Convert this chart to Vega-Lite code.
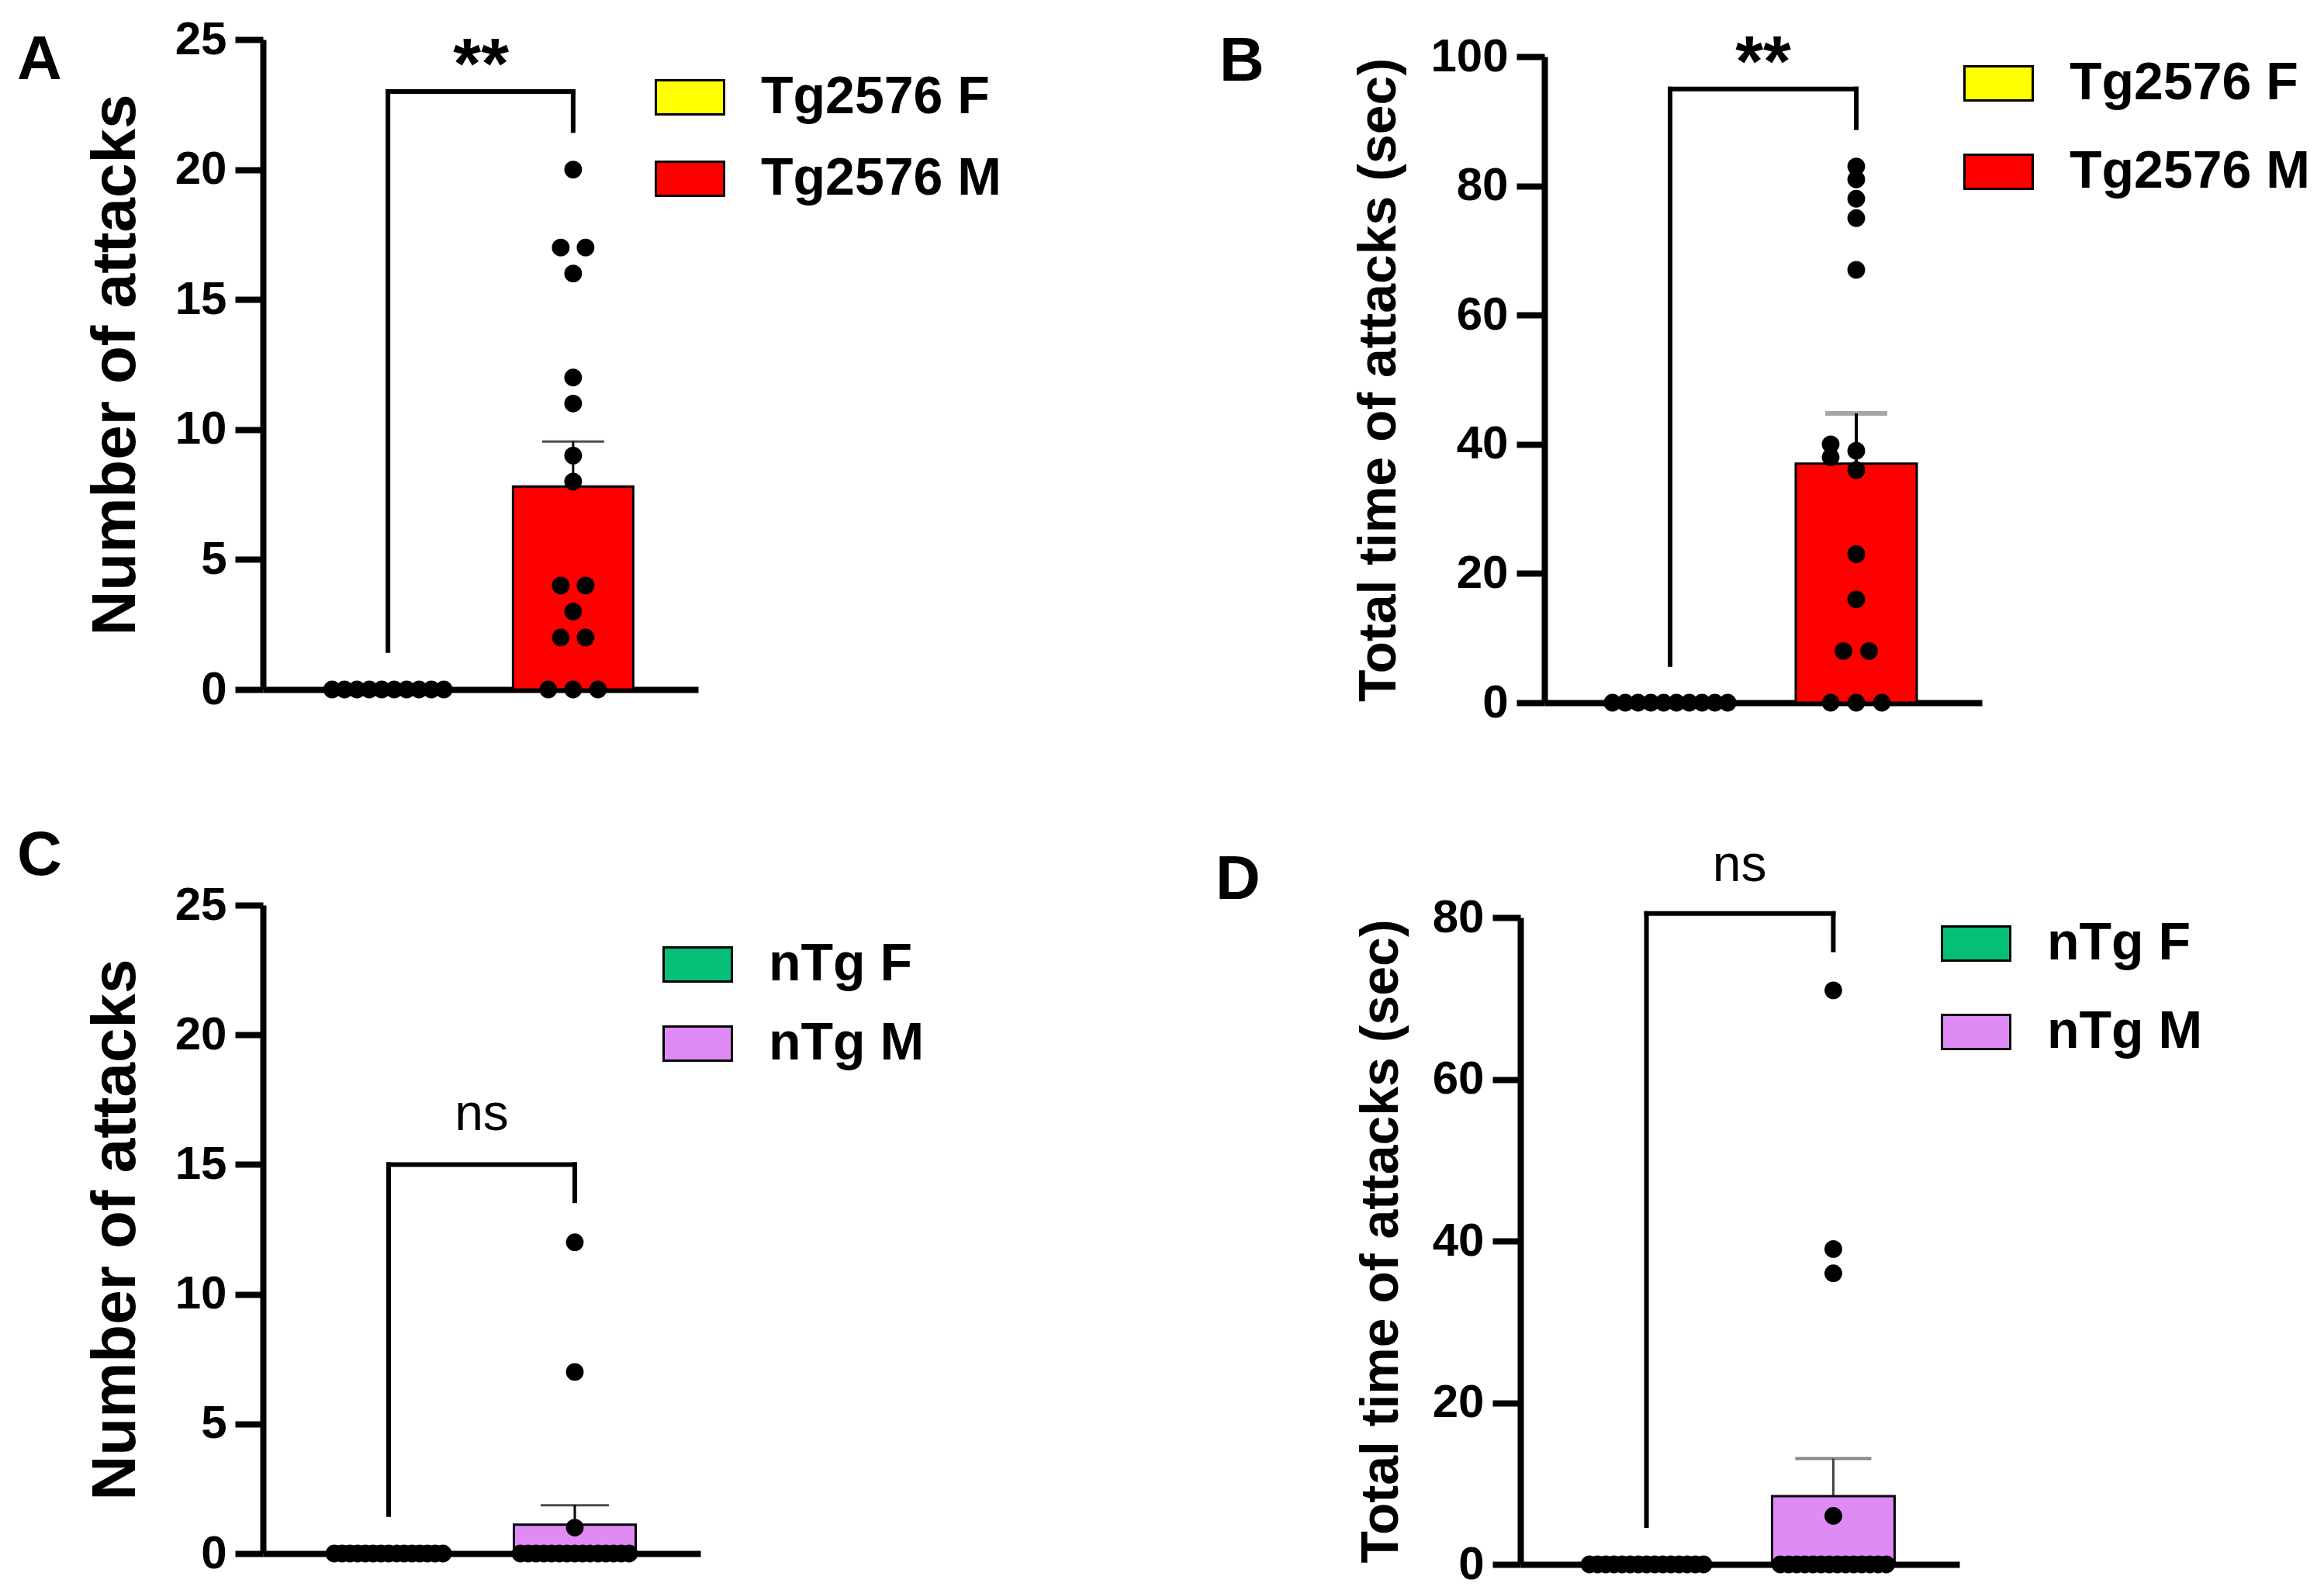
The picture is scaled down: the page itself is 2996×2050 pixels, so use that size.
{
  "$schema": "https://vega.github.io/schema/vega-lite/v6.json",
  "background": "#ffffff",
  "padding": {"left": 22, "top": 21, "right": 0, "bottom": 0},
  "bounds": "flush",
  "columns": 2,
  "spacing": {"row": 261, "column": 1057},
  "resolve": {"scale": {"fill": "independent", "xOffset": "independent"}, "legend": {"fill": "independent"}},
  "concat": [
    {
      "width": 561,
      "height": 838,
      "title": {"text": "A", "dx": -317, "dy": 102},
      "encoding": {
        "x": {"field": "group", "type": "nominal", "title": null, "sort": null,
              "scale": {"domain": ["Tg2576 F", "Tg2576 M"], "paddingInner": 0.35, "paddingOuter": 0.35}}
      },
      "layer": [
        {
          "data": {"name": "tgAttacks"},
          "transform": [{"filter": "datum.group === 'Tg2576 M'"}],
          "mark": {"type": "errorbar", "extent": "stderr",
                   "ticks": {"size": 80, "thickness": 3, "color": "#000000"},
                   "rule": {"strokeWidth": 3, "color": "#000000"}},
          "encoding": {
            "y": {"field": "value", "type": "quantitative", "title": "Number of attacks",
                  "scale": {"domain": [0, 25], "nice": false},
                  "axis": {"values": [0, 5, 10, 15, 20, 25], "titleFontSize": 80, "titlePadding": 35}}
          }
        },
        {
          "data": {"name": "tgAttacks"},
          "mark": {"type": "bar", "stroke": "#000000", "strokeWidth": 3, "width": 155},
          "encoding": {
            "y": {"aggregate": "mean", "field": "value", "type": "quantitative", "title": "Number of attacks"},
            "fill": {"field": "group", "type": "nominal",
                     "scale": {"domain": ["Tg2576 F", "Tg2576 M"], "range": ["#ffff00", "#ff0000"]},
                     "legend": {"legendX": 505, "legendY": 29, "rowPadding": 25}}
          }
        },
        {
          "data": {"name": "tgAttacks"},
          "mark": {"type": "circle", "size": 520, "color": "#000000", "opacity": 1},
          "encoding": {
            "xOffset": {"field": "dodge", "type": "quantitative", "scale": {"domain": [-1, 1], "range": [61.6, 93.6]}},
            "y": {"field": "value", "type": "quantitative", "title": "Number of attacks"}
          }
        },
        {
          "data": {"name": "brackets"},
          "transform": [{"filter": "datum.panel === 'A'"}],
          "layer": [
            {"mark": {"type": "rule", "strokeWidth": 6, "color": "#000000", "strokeCap": "square"},
             "encoding": {"y": {"field": "left", "type": "quantitative", "title": "Number of attacks"}, "y2": {"field": "top"}}},
            {"mark": {"type": "rule", "strokeWidth": 6, "color": "#000000", "strokeCap": "square"},
             "encoding": {"x2": {"field": "group2"}, "y": {"field": "top", "type": "quantitative", "title": "Number of attacks"}}},
            {"mark": {"type": "rule", "strokeWidth": 6, "color": "#000000", "strokeCap": "square"},
             "encoding": {"x": {"field": "group2", "type": "nominal", "title": null}, "y": {"field": "right", "type": "quantitative", "title": "Number of attacks"}, "y2": {"field": "top"}}},
            {"mark": {"type": "text", "dx": 120, "dy": -4, "fontSize": 92, "fontWeight": "bold", "align": "center", "baseline": "alphabetic", "color": "#000000"},
             "encoding": {"text": {"field": "label"}, "y": {"field": "top", "type": "quantitative", "title": "Number of attacks"}}}
          ]
        }
      ]
    },
    {
      "width": 595,
      "height": 855,
      "title": {"text": "B", "dx": -388, "dy": 88},
      "encoding": {
        "x": {"field": "group", "type": "nominal", "title": null, "sort": null,
              "scale": {"domain": ["Tg2576 F", "Tg2576 M"], "paddingInner": 0.35, "paddingOuter": 0.35, "range": [31, 595]}}
      },
      "layer": [
        {
          "data": {"name": "tgTime"},
          "transform": [{"filter": "datum.group === 'Tg2576 M'"}],
          "mark": {"type": "errorbar", "extent": "stderr",
                   "ticks": {"size": 80, "thickness": 6, "color": "#808080"},
                   "rule": {"strokeWidth": 4, "color": "#000000"}},
          "encoding": {
            "y": {"field": "value", "type": "quantitative", "title": "Total time of attacks (sec)",
                  "scale": {"domain": [0, 100], "nice": false, "range": [855, 22]},
                  "axis": {"values": [0, 20, 40, 60, 80, 100], "titleFontSize": 68, "titlePadding": 31, "offset": -31}}
          }
        },
        {
          "data": {"name": "tgTime"},
          "mark": {"type": "bar", "stroke": "#000000", "strokeWidth": 3, "width": 156},
          "encoding": {
            "y": {"aggregate": "mean", "field": "value", "type": "quantitative", "title": "Total time of attacks (sec)"},
            "fill": {"field": "group", "type": "nominal",
                     "scale": {"domain": ["Tg2576 F", "Tg2576 M"], "range": ["#ffff00", "#ff0000"]},
                     "legend": {"legendX": 571, "legendY": 11, "rowPadding": 34}}
          }
        },
        {
          "data": {"name": "tgTime"},
          "mark": {"type": "circle", "size": 520, "color": "#000000", "opacity": 1},
          "encoding": {
            "xOffset": {"field": "dodge", "type": "quantitative", "scale": {"domain": [-1, 1], "range": [61.5, 94.5]}},
            "y": {"field": "value", "type": "quantitative", "title": "Total time of attacks (sec)"}
          }
        },
        {
          "data": {"name": "brackets"},
          "transform": [{"filter": "datum.panel === 'B'"}],
          "layer": [
            {"mark": {"type": "rule", "strokeWidth": 6, "color": "#000000", "strokeCap": "square"},
             "encoding": {"y": {"field": "left", "type": "quantitative", "title": "Total time of attacks (sec)"}, "y2": {"field": "top"}}},
            {"mark": {"type": "rule", "strokeWidth": 6, "color": "#000000", "strokeCap": "square"},
             "encoding": {"x2": {"field": "group2"}, "y": {"field": "top", "type": "quantitative", "title": "Total time of attacks (sec)"}}},
            {"mark": {"type": "rule", "strokeWidth": 6, "color": "#000000", "strokeCap": "square"},
             "encoding": {"x": {"field": "group2", "type": "nominal", "title": null}, "y": {"field": "right", "type": "quantitative", "title": "Total time of attacks (sec)"}, "y2": {"field": "top"}}},
            {"mark": {"type": "text", "dx": 120, "dy": -4, "fontSize": 92, "fontWeight": "bold", "align": "center", "baseline": "alphabetic", "color": "#000000"},
             "encoding": {"text": {"field": "label"}, "y": {"field": "top", "type": "quantitative", "title": "Total time of attacks (sec)"}}}
          ]
        }
      ]
    },
    {
      "width": 564,
      "height": 836,
      "title": {"text": "C", "dx": -317, "dy": 12},
      "encoding": {
        "x": {"field": "group", "type": "nominal", "title": null, "sort": null,
              "scale": {"domain": ["nTg F", "nTg M"], "paddingInner": 0.35, "paddingOuter": 0.35}}
      },
      "layer": [
        {
          "data": {"name": "ntgAttacks"},
          "transform": [{"filter": "datum.group === 'nTg M'"}],
          "mark": {"type": "errorbar", "extent": "stderr",
                   "ticks": {"size": 88, "thickness": 3, "color": "#000000"},
                   "rule": {"strokeWidth": 3, "color": "#000000"}},
          "encoding": {
            "y": {"field": "value", "type": "quantitative", "title": "Number of attacks",
                  "scale": {"domain": [0, 25], "nice": false},
                  "axis": {"values": [0, 5, 10, 15, 20, 25], "titleFontSize": 80, "titlePadding": 35}}
          }
        },
        {
          "data": {"name": "ntgAttacks"},
          "mark": {"type": "bar", "stroke": "#000000", "strokeWidth": 3, "width": 157},
          "encoding": {
            "y": {"aggregate": "mean", "field": "value", "type": "quantitative", "title": "Number of attacks"},
            "fill": {"field": "group", "type": "nominal",
                     "scale": {"domain": ["nTg F", "nTg M"], "range": ["#05bf78", "#df8af5"]},
                     "legend": {"legendX": 515, "legendY": 31, "rowPadding": 22}}
          }
        },
        {
          "data": {"name": "ntgAttacks"},
          "mark": {"type": "circle", "size": 520, "color": "#000000", "opacity": 1},
          "encoding": {
            "xOffset": {"field": "dodge", "type": "quantitative", "scale": {"domain": [-1, 1], "range": [68, 88]}},
            "y": {"field": "value", "type": "quantitative", "title": "Number of attacks"}
          }
        },
        {
          "data": {"name": "brackets"},
          "transform": [{"filter": "datum.panel === 'C'"}],
          "layer": [
            {"mark": {"type": "rule", "strokeWidth": 6, "color": "#000000", "strokeCap": "square"},
             "encoding": {"y": {"field": "left", "type": "quantitative", "title": "Number of attacks"}, "y2": {"field": "top"}}},
            {"mark": {"type": "rule", "strokeWidth": 6, "color": "#000000", "strokeCap": "square"},
             "encoding": {"x2": {"field": "group2"}, "y": {"field": "top", "type": "quantitative", "title": "Number of attacks"}}},
            {"mark": {"type": "rule", "strokeWidth": 6, "color": "#000000", "strokeCap": "square"},
             "encoding": {"x": {"field": "group2", "type": "nominal", "title": null}, "y": {"field": "right", "type": "quantitative", "title": "Number of attacks"}, "y2": {"field": "top"}}},
            {"mark": {"type": "text", "dx": 120, "dy": -44, "fontSize": 66, "fontWeight": "normal", "align": "center", "baseline": "alphabetic", "color": "#000000"},
             "encoding": {"text": {"field": "label"}, "y": {"field": "top", "type": "quantitative", "title": "Number of attacks"}}}
          ]
        }
      ]
    },
    {
      "width": 566,
      "height": 850,
      "title": {"text": "D", "dx": -393, "dy": 97},
      "encoding": {
        "x": {"field": "group", "type": "nominal", "title": null, "sort": null,
              "scale": {"domain": ["nTg F", "nTg M"], "paddingInner": 0.35, "paddingOuter": 0.35}}
      },
      "layer": [
        {
          "data": {"name": "ntgTime"},
          "transform": [{"filter": "datum.group === 'nTg M'"}],
          "mark": {"type": "errorbar", "extent": "stderr",
                   "ticks": {"size": 98, "thickness": 4, "color": "#555555"},
                   "rule": {"strokeWidth": 3, "color": "#444444"}},
          "encoding": {
            "y": {"field": "value", "type": "quantitative", "title": "Total time of attacks (sec)",
                  "scale": {"domain": [0, 80], "nice": false, "range": [850, 16]},
                  "axis": {"values": [0, 20, 40, 60, 80], "titleFontSize": 68, "titlePadding": 31}}
          }
        },
        {
          "data": {"name": "ntgTime"},
          "mark": {"type": "bar", "stroke": "#000000", "strokeWidth": 3, "width": 158},
          "encoding": {
            "y": {"aggregate": "mean", "field": "value", "type": "quantitative", "title": "Total time of attacks (sec)"},
            "fill": {"field": "group", "type": "nominal",
                     "scale": {"domain": ["nTg F", "nTg M"], "range": ["#05bf78", "#df8af5"]},
                     "legend": {"legendX": 542, "legendY": 4, "rowPadding": 34}}
          }
        },
        {
          "data": {"name": "ntgTime"},
          "mark": {"type": "circle", "size": 520, "color": "#000000", "opacity": 1},
          "encoding": {
            "xOffset": {"field": "dodge", "type": "quantitative", "scale": {"domain": [-1, 1], "range": [67.8, 88.8]}},
            "y": {"field": "value", "type": "quantitative", "title": "Total time of attacks (sec)"}
          }
        },
        {
          "data": {"name": "brackets"},
          "transform": [{"filter": "datum.panel === 'D'"}],
          "layer": [
            {"mark": {"type": "rule", "strokeWidth": 6, "color": "#000000", "strokeCap": "square"},
             "encoding": {"y": {"field": "left", "type": "quantitative", "title": "Total time of attacks (sec)"}, "y2": {"field": "top"}}},
            {"mark": {"type": "rule", "strokeWidth": 6, "color": "#000000", "strokeCap": "square"},
             "encoding": {"x2": {"field": "group2"}, "y": {"field": "top", "type": "quantitative", "title": "Total time of attacks (sec)"}}},
            {"mark": {"type": "rule", "strokeWidth": 6, "color": "#000000", "strokeCap": "square"},
             "encoding": {"x": {"field": "group2", "type": "nominal", "title": null}, "y": {"field": "right", "type": "quantitative", "title": "Total time of attacks (sec)"}, "y2": {"field": "top"}}},
            {"mark": {"type": "text", "dx": 120, "dy": -42, "fontSize": 66, "fontWeight": "normal", "align": "center", "baseline": "alphabetic", "color": "#000000"},
             "encoding": {"text": {"field": "label"}, "y": {"field": "top", "type": "quantitative", "title": "Total time of attacks (sec)"}}}
          ]
        }
      ]
    }
  ],
  "datasets": {
    "tgAttacks": [
      {"group": "Tg2576 F", "value": 0, "dodge": -4.5},
      {"group": "Tg2576 F", "value": 0, "dodge": -3.5},
      {"group": "Tg2576 F", "value": 0, "dodge": -2.5},
      {"group": "Tg2576 F", "value": 0, "dodge": -1.5},
      {"group": "Tg2576 F", "value": 0, "dodge": -0.5},
      {"group": "Tg2576 F", "value": 0, "dodge": 0.5},
      {"group": "Tg2576 F", "value": 0, "dodge": 1.5},
      {"group": "Tg2576 F", "value": 0, "dodge": 2.5},
      {"group": "Tg2576 F", "value": 0, "dodge": 3.5},
      {"group": "Tg2576 F", "value": 0, "dodge": 4.5},
      {"group": "Tg2576 M", "value": 20, "dodge": 0},
      {"group": "Tg2576 M", "value": 17, "dodge": -1},
      {"group": "Tg2576 M", "value": 17, "dodge": 1},
      {"group": "Tg2576 M", "value": 16, "dodge": 0},
      {"group": "Tg2576 M", "value": 12, "dodge": 0},
      {"group": "Tg2576 M", "value": 11, "dodge": 0},
      {"group": "Tg2576 M", "value": 9, "dodge": 0},
      {"group": "Tg2576 M", "value": 8, "dodge": 0},
      {"group": "Tg2576 M", "value": 4, "dodge": -1},
      {"group": "Tg2576 M", "value": 4, "dodge": 1},
      {"group": "Tg2576 M", "value": 3, "dodge": 0},
      {"group": "Tg2576 M", "value": 2, "dodge": -1},
      {"group": "Tg2576 M", "value": 2, "dodge": 1},
      {"group": "Tg2576 M", "value": 0, "dodge": -2},
      {"group": "Tg2576 M", "value": 0, "dodge": 0},
      {"group": "Tg2576 M", "value": 0, "dodge": 2}
    ],
    "tgTime": [
      {"group": "Tg2576 F", "value": 0, "dodge": -4.5},
      {"group": "Tg2576 F", "value": 0, "dodge": -3.5},
      {"group": "Tg2576 F", "value": 0, "dodge": -2.5},
      {"group": "Tg2576 F", "value": 0, "dodge": -1.5},
      {"group": "Tg2576 F", "value": 0, "dodge": -0.5},
      {"group": "Tg2576 F", "value": 0, "dodge": 0.5},
      {"group": "Tg2576 F", "value": 0, "dodge": 1.5},
      {"group": "Tg2576 F", "value": 0, "dodge": 2.5},
      {"group": "Tg2576 F", "value": 0, "dodge": 3.5},
      {"group": "Tg2576 F", "value": 0, "dodge": 4.5},
      {"group": "Tg2576 M", "value": 83, "dodge": 0},
      {"group": "Tg2576 M", "value": 81, "dodge": 0},
      {"group": "Tg2576 M", "value": 78, "dodge": 0},
      {"group": "Tg2576 M", "value": 75, "dodge": 0},
      {"group": "Tg2576 M", "value": 67, "dodge": 0},
      {"group": "Tg2576 M", "value": 40, "dodge": -2},
      {"group": "Tg2576 M", "value": 39, "dodge": 0},
      {"group": "Tg2576 M", "value": 38, "dodge": -2},
      {"group": "Tg2576 M", "value": 36, "dodge": 0},
      {"group": "Tg2576 M", "value": 23, "dodge": 0},
      {"group": "Tg2576 M", "value": 16, "dodge": 0},
      {"group": "Tg2576 M", "value": 8, "dodge": -1},
      {"group": "Tg2576 M", "value": 8, "dodge": 1},
      {"group": "Tg2576 M", "value": 0, "dodge": -2},
      {"group": "Tg2576 M", "value": 0, "dodge": 0},
      {"group": "Tg2576 M", "value": 0, "dodge": 2}
    ],
    "ntgAttacks": [
      {"group": "nTg F", "value": 0, "dodge": -7},
      {"group": "nTg F", "value": 0, "dodge": -6},
      {"group": "nTg F", "value": 0, "dodge": -5},
      {"group": "nTg F", "value": 0, "dodge": -4},
      {"group": "nTg F", "value": 0, "dodge": -3},
      {"group": "nTg F", "value": 0, "dodge": -2},
      {"group": "nTg F", "value": 0, "dodge": -1},
      {"group": "nTg F", "value": 0, "dodge": 0},
      {"group": "nTg F", "value": 0, "dodge": 1},
      {"group": "nTg F", "value": 0, "dodge": 2},
      {"group": "nTg F", "value": 0, "dodge": 3},
      {"group": "nTg F", "value": 0, "dodge": 4},
      {"group": "nTg F", "value": 0, "dodge": 5},
      {"group": "nTg F", "value": 0, "dodge": 6},
      {"group": "nTg F", "value": 0, "dodge": 7},
      {"group": "nTg M", "value": 12, "dodge": 0},
      {"group": "nTg M", "value": 7, "dodge": 0},
      {"group": "nTg M", "value": 1, "dodge": 0},
      {"group": "nTg M", "value": 0, "dodge": -7},
      {"group": "nTg M", "value": 0, "dodge": -6},
      {"group": "nTg M", "value": 0, "dodge": -5},
      {"group": "nTg M", "value": 0, "dodge": -4},
      {"group": "nTg M", "value": 0, "dodge": -3},
      {"group": "nTg M", "value": 0, "dodge": -2},
      {"group": "nTg M", "value": 0, "dodge": -1},
      {"group": "nTg M", "value": 0, "dodge": 0},
      {"group": "nTg M", "value": 0, "dodge": 1},
      {"group": "nTg M", "value": 0, "dodge": 2},
      {"group": "nTg M", "value": 0, "dodge": 3},
      {"group": "nTg M", "value": 0, "dodge": 4},
      {"group": "nTg M", "value": 0, "dodge": 5},
      {"group": "nTg M", "value": 0, "dodge": 6},
      {"group": "nTg M", "value": 0, "dodge": 7}
    ],
    "ntgTime": [
      {"group": "nTg F", "value": 0, "dodge": -7},
      {"group": "nTg F", "value": 0, "dodge": -6},
      {"group": "nTg F", "value": 0, "dodge": -5},
      {"group": "nTg F", "value": 0, "dodge": -4},
      {"group": "nTg F", "value": 0, "dodge": -3},
      {"group": "nTg F", "value": 0, "dodge": -2},
      {"group": "nTg F", "value": 0, "dodge": -1},
      {"group": "nTg F", "value": 0, "dodge": 0},
      {"group": "nTg F", "value": 0, "dodge": 1},
      {"group": "nTg F", "value": 0, "dodge": 2},
      {"group": "nTg F", "value": 0, "dodge": 3},
      {"group": "nTg F", "value": 0, "dodge": 4},
      {"group": "nTg F", "value": 0, "dodge": 5},
      {"group": "nTg F", "value": 0, "dodge": 6},
      {"group": "nTg F", "value": 0, "dodge": 7},
      {"group": "nTg M", "value": 71, "dodge": 0},
      {"group": "nTg M", "value": 39, "dodge": 0},
      {"group": "nTg M", "value": 36, "dodge": 0},
      {"group": "nTg M", "value": 6, "dodge": 0},
      {"group": "nTg M", "value": 0, "dodge": -6.5},
      {"group": "nTg M", "value": 0, "dodge": -5.5},
      {"group": "nTg M", "value": 0, "dodge": -4.5},
      {"group": "nTg M", "value": 0, "dodge": -3.5},
      {"group": "nTg M", "value": 0, "dodge": -2.5},
      {"group": "nTg M", "value": 0, "dodge": -1.5},
      {"group": "nTg M", "value": 0, "dodge": -0.5},
      {"group": "nTg M", "value": 0, "dodge": 0.5},
      {"group": "nTg M", "value": 0, "dodge": 1.5},
      {"group": "nTg M", "value": 0, "dodge": 2.5},
      {"group": "nTg M", "value": 0, "dodge": 3.5},
      {"group": "nTg M", "value": 0, "dodge": 4.5},
      {"group": "nTg M", "value": 0, "dodge": 5.5},
      {"group": "nTg M", "value": 0, "dodge": 6.5}
    ],
    "brackets": [
      {"panel": "A", "group": "Tg2576 F", "group2": "Tg2576 M", "top": 23, "left": 1.5, "right": 21.5, "label": "**"},
      {"panel": "B", "group": "Tg2576 F", "group2": "Tg2576 M", "top": 95, "left": 5.9, "right": 89, "label": "**"},
      {"panel": "C", "group": "nTg F", "group2": "nTg M", "top": 15, "left": 1.5, "right": 13.6, "label": "ns"},
      {"panel": "D", "group": "nTg F", "group2": "nTg M", "top": 80.5, "left": 4.8, "right": 76, "label": "ns"}
    ]
  },
  "config": {
    "font": "Liberation Sans",
    "view": {"stroke": null},
    "axis": {
      "grid": false,
      "domainColor": "#000000",
      "domainWidth": 8,
      "tickColor": "#000000",
      "tickWidth": 8,
      "tickSize": 36,
      "labelColor": "#000000",
      "labelFont": "Liberation Sans",
      "labelFontWeight": "bold",
      "labelFontSize": 60,
      "labelPadding": 11,
      "titleColor": "#000000",
      "titleFont": "Liberation Sans",
      "titleFontWeight": "bold",
      "titleLimit": 2000
    },
    "axisX": {"labels": false, "ticks": false},
    "legend": {
      "orient": "none",
      "title": null,
      "padding": 0,
      "symbolType": "M-1,-0.5H1V0.5H-1Z",
      "symbolSize": 7744,
      "symbolStrokeColor": "#000000",
      "symbolStrokeWidth": 3,
      "symbolOpacity": 1,
      "labelFont": "Liberation Sans",
      "labelFontSize": 68,
      "labelFontWeight": "bold",
      "labelColor": "#000000",
      "labelOffset": 46,
      "labelLimit": 800
    },
    "title": {
      "anchor": "start",
      "frame": "group",
      "fontSize": 80,
      "fontWeight": "bold",
      "color": "#000000",
      "offset": 0
    }
  }
}
